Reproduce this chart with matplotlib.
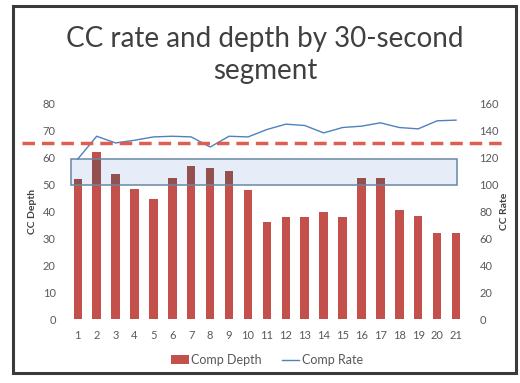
import matplotlib
matplotlib.use("Agg")
import matplotlib.pyplot as plt
from matplotlib.patches import Rectangle
from matplotlib.lines import Line2D

# ---- data ----
segments = list(range(1, 22))
comp_depth = [52, 62, 54, 48.5, 44.5, 52.5, 57, 56, 55, 48, 36, 38, 38, 40, 38,
              52.5, 52.5, 40.5, 38.5, 32, 32]
comp_rate = [119, 136, 131, 133, 135.5, 136, 135.5, 128, 136, 135.5, 141, 145,
             144, 138.5, 142.5, 143.5, 146, 142.5, 141.5, 147.5, 148]
depth_ticks = list(range(0, 81, 10))
rate_ticks = list(range(0, 161, 20))
target_depth_line = 65.5          # dashed reference line (depth units)
target_band = (50, 59.5)          # highlighted depth band
title = "CC rate and depth by 30-second\nsegment"

plt.rcParams['font.family'] = ['Lato', 'DejaVu Sans']

fig = plt.figure(figsize=(5.2, 3.83), dpi=100)
fig.patch.set_facecolor('white')
W, H = 520, 383

# photo frame
fig.patches.append(Rectangle((13 / W, 1 - 373 / H), (516 - 13) / W, (373 - 6) / H,
                             transform=fig.transFigure, fill=False,
                             edgecolor='#3a3a3a', linewidth=2.2))

left, right = 68.3 / W, 465.5 / W
bottom, top = 1 - 319 / H, 1 - 104 / H
ax = fig.add_axes([left, bottom, right - left, top - bottom])
ax2 = ax.twinx()

txt_col = '#595959'
ax.bar(segments, comp_depth, width=0.45, color='#c4504c', zorder=2,
       label='Comp Depth')
ax.set_xlim(0.5, 21.5)
ax.set_ylim(0, 80)
ax.set_yticks(depth_ticks)
ax.set_xticks(segments)
ax.set_xticklabels([str(s) for s in segments])

ax2.plot(segments, comp_rate, color='#4f81bd', linewidth=1.0, label='Comp Rate')
ax2.set_ylim(0, 160)
ax2.set_yticks(rate_ticks)

for a in (ax, ax2):
    for s in a.spines.values():
        s.set_visible(False)
    a.tick_params(length=0, labelsize=8, labelcolor=txt_col)
ax.tick_params(axis='y', pad=9)
ax.tick_params(axis='x', pad=8)
ax2.tick_params(axis='y', pad=10)

ax.set_ylabel('CC Depth', fontsize=7.5, fontweight='bold', color='#404040', labelpad=4)
ax2.set_ylabel('CC Rate', fontsize=7.5, fontweight='bold', color='#404040',
               rotation=90, labelpad=1)

# highlighted band (darkens the bars it covers)
bx0, bx1 = 0.64, 21.07
band = Rectangle((bx0, target_band[0]), bx1 - bx0, target_band[1] - target_band[0],
                 facecolor='#e6edf8', edgecolor='none', zorder=1.5)
ax.add_patch(band)
dark = ax.bar(segments, comp_depth, width=0.45, color='#93504e', zorder=2.5)
clip = Rectangle((bx0, target_band[0]), bx1 - bx0, target_band[1] - target_band[0],
                 transform=ax.transData, facecolor='none', edgecolor='none')
for b in dark:
    b.set_clip_path(clip)
ax.add_patch(Rectangle((bx0, target_band[0]), bx1 - bx0, target_band[1] - target_band[0],
                       fill=False, edgecolor='#6a86a3', linewidth=1.1, zorder=4))

# dashed reference line spanning beyond the plot
ref = Line2D([-0.117, 1.107], [target_depth_line, target_depth_line],
             transform=ax.get_yaxis_transform(), color='#de5f52',
             linewidth=2.5, linestyle=(0, (3.6, 2.0)), clip_on=False, zorder=5)
ax2.add_line(ref)

fig.text(0.51, 1 - 55 / H, title, ha='center', va='center', fontsize=20,
         color='#404040', linespacing=1.3)

h1, l1 = ax.get_legend_handles_labels()
h2, l2 = ax2.get_legend_handles_labels()
fig.legend(h1 + h2, l1 + l2, loc='center', bbox_to_anchor=(267 / W, 1 - 360 / H),
           ncol=2, frameon=False, fontsize=9, labelcolor=txt_col,
           handlelength=1.4, handletextpad=0.2, columnspacing=1.6)

fig.savefig('out.png', dpi=100, facecolor='white')
